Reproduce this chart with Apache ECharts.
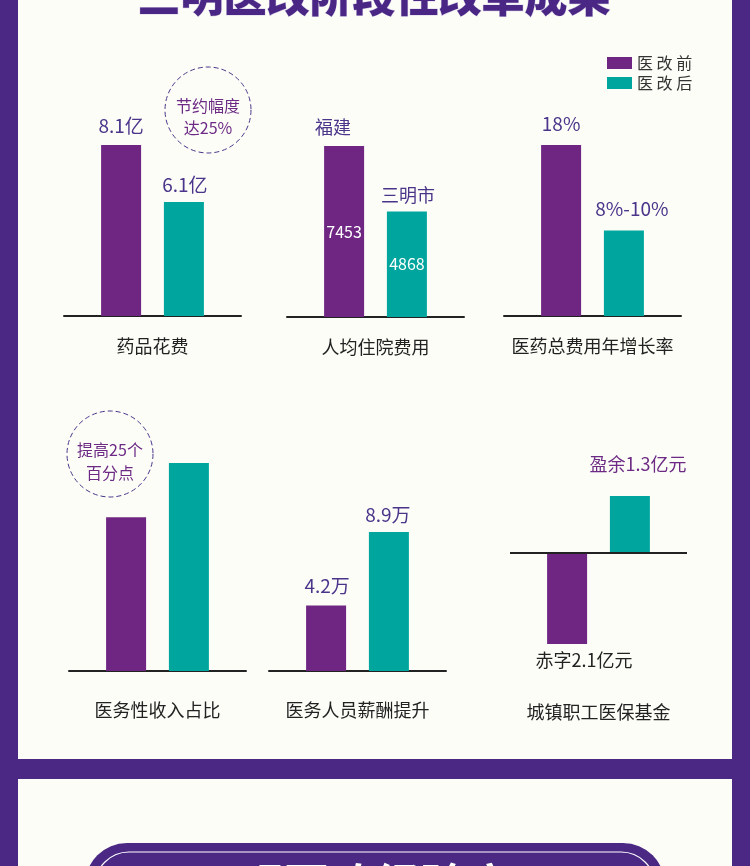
<!DOCTYPE html>
<html><head><meta charset="utf-8">
<script src="https://cdn.jsdelivr.net/npm/echarts@6/dist/echarts.min.js"></script>
<style>html,body{margin:0;padding:0;background:#fdfdf8;}#c{width:750px;height:866px;}</style>
</head><body><div id="c"></div>
<script>
// ---- data ----
const categories = ['药品花费','人均住院费用','医药总费用年增长率','医务性收入占比','医务人员薪酬提升','城镇职工医保基金'];
const seriesNames = ['医 改 前','医 改 后'];
const valuesBefore = [8.1, 7453, 18, 71, 4.2, -2.1];
const valuesAfter  = [6.1, 4868, 9, 96, 8.9, 1.3];
const labelsBefore = ['8.1亿','福建','18%','','4.2万','赤字2.1亿元'];
const labelsAfter  = ['6.1亿','三明市','8%-10%','','8.9万','盈余1.3亿元'];
const innerBefore  = ['','7453','','','',''];
const innerAfter   = ['','4868','','','',''];
const axisMin = [2.1, 700, 0, 0, 0, -2.1];
const axisMax = [8.1, 7453, 18, 96, 8.9, 1.3];
const notes = [['节约幅度','达25%'], null, null, ['提高25个','百分点'], null, null];
const titleText = '三明医改阶段性改革成果';
const bannerText = '三明医改经验启示';

// ---- styles / layout ----
const PURPLE = '#6e2682', TEAL = '#00a69e', FRAME = '#4a2884';
const FONT = "'Noto Sans CJK SC','Noto Sans',sans-serif";
const grids = [
  {left:64, top:145, width:177, height:171},
  {left:287, top:146, width:177, height:171},
  {left:504, top:145, width:177, height:171},
  {left:69, top:463, width:177, height:208},
  {left:269, top:532, width:177, height:139},
  {left:510, top:496, width:177, height:148}
];
const catMargin = [21, 21, 21, 30, 30, 59];
// label tweaks: [dx, distance, position, color, fontSize]
const lblBefore = [[0,10,'top','#4a358a',19],[-11,10,'top','#4a358a',18],[0,12,'top','#4a358a',19],null,[1,10,'top','#4a358a',19],[17,7,'bottom','#222',18]];
const lblAfter  = [[1,8,'top','#4a358a',19],[1,7,'top','#4a358a',18],[8,12,'top','#4a358a',19],null,[-1,8,'top','#4a358a',19],[8,23,'top','#6c2a84',18]];
const noteCircles = [{cx:208, cy:110, r:43, l1:106, l2:128}, null, null, {cx:110, cy:454, r:43, l1:450, l2:473}, null, null];

const chart = echarts.init(document.getElementById('c'), null, {renderer:'canvas'});
const gridOpt = [], xAxes = [], yAxes = [], series = [];
grids.forEach((g, i) => {
  gridOpt.push(Object.assign({outerBoundsMode:'none', containLabel:false}, g));
  const zeroCross = axisMin[i] < 0;
  xAxes.push({
    type:'category', gridIndex:i, data:[categories[i]],
    axisLine:{show:!zeroCross, onZero:false, lineStyle:{color:'#222', width:2}},
    axisTick:{show:false}, splitLine:{show:false},
    axisLabel:{show:true, margin:catMargin[i], color:'#222', fontSize:18, fontFamily:FONT, interval:0}
  });
  yAxes.push({type:'value', gridIndex:i, min:axisMin[i], max:axisMax[i], show:false});
  const mk = (name, val, color, lbl, txt, inner) => {
    const s = {
      type:'bar', name:name, xAxisIndex:i, yAxisIndex:i, data:[val],
      barWidth:40, barGap:'57%', itemStyle:{color:color}, silent:true,
      label: lbl ? {show:true, position:lbl[2], distance:lbl[1], offset:[lbl[0],0], formatter:txt,
        color:lbl[3], fontSize:lbl[4], fontFamily:FONT} : {show:false}
    };
    if (inner) {
      s.markPoint = {silent:true, symbol:'rect', symbolSize:[1,1], itemStyle:{color:'rgba(0,0,0,0)'},
        label:{show:true, position:'inside', formatter:inner, color:'#fff', fontSize:16, fontFamily:FONT},
        data:[{coord:[0, (val + Math.max(axisMin[i],0)) / 2]}]};
    }
    if (zeroCross && name === seriesNames[0]) {
      s.markLine = {silent:true, symbol:'none', label:{show:false},
        lineStyle:{color:'#222', width:2, type:'solid'}, data:[{yAxis:0}]};
    }
    return s;
  };
  series.push(mk(seriesNames[0], valuesBefore[i], PURPLE, lblBefore[i], labelsBefore[i], innerBefore[i]));
  series.push(mk(seriesNames[1], valuesAfter[i], TEAL, lblAfter[i], labelsAfter[i], innerAfter[i]));
});

const graphics = [
  {type:'rect', shape:{x:0,y:0,width:18,height:866}, style:{fill:FRAME}, z:10},
  {type:'rect', shape:{x:732,y:0,width:18,height:866}, style:{fill:FRAME}, z:10},
  {type:'rect', shape:{x:0,y:759,width:750,height:20}, style:{fill:FRAME}, z:10},
  {type:'text', x:374, y:-4, style:{text:titleText, fill:'#4a2784', font:"900 43px 'Noto Sans CJK SC'", textAlign:'center', textVerticalAlign:'middle', stroke:'#ddd6ea', lineWidth:1}, z:10},
  {type:'rect', shape:{x:85,y:843,width:580,height:90,r:42}, style:{fill:FRAME}, z:10},
  {type:'rect', shape:{x:95,y:852,width:560,height:75,r:34}, style:{fill:'none', stroke:'#fff', lineWidth:1.2}, z:11},
  {type:'text', x:375, y:862, style:{text:bannerText, fill:'#fff', font:"bold 46px 'Noto Sans CJK SC'", textAlign:'center', textVerticalAlign:'top'}, z:11}
];
noteCircles.forEach((c, i) => {
  if (!c) return;
  graphics.push({type:'circle', shape:{cx:c.cx, cy:c.cy, r:c.r}, style:{fill:'none', stroke:'#4a358a', lineWidth:1, lineDash:[5,3]}, z:5});
  graphics.push({type:'text', x:c.cx, y:c.l1, style:{text:notes[i][0], fill:'#6c2a84', font:"16px 'Noto Sans CJK SC'", textAlign:'center', textVerticalAlign:'middle'}, z:5});
  graphics.push({type:'text', x:c.cx, y:c.l2, style:{text:notes[i][1], fill:'#6c2a84', font:"16px 'Noto Sans CJK SC'", textAlign:'center', textVerticalAlign:'middle'}, z:5});
});

chart.setOption({
  animation:false,
  backgroundColor:'#fdfdf8',
  legend:{data:seriesNames, orient:'vertical', left:607, top:55, padding:0, itemWidth:25, itemHeight:12, itemGap:4, icon:'rect',
    textStyle:{color:'#333', fontSize:16, fontFamily:FONT}, selectedMode:false},
  grid:gridOpt, xAxis:xAxes, yAxis:yAxes, series:series, graphic:graphics
});
</script></body></html>
